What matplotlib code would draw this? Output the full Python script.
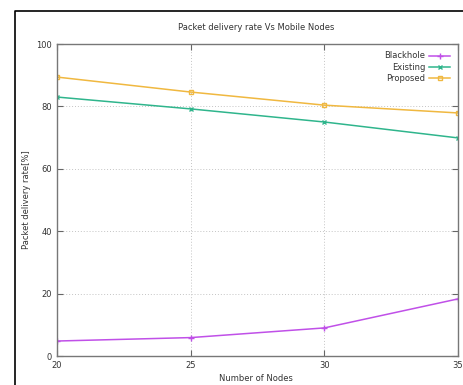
import matplotlib
matplotlib.use("Agg")
import matplotlib.pyplot as plt
from matplotlib.lines import Line2D

# data
nodes = [20, 25, 30, 35]
blackhole = [4.8, 5.9, 9.0, 18.3]
existing = [83.0, 79.2, 75.0, 69.9]
proposed = [89.4, 84.6, 80.4, 77.9]

plt.rcParams['font.family'] = 'DejaVu Sans'

fig = plt.figure(figsize=(4.64, 3.85), dpi=100, facecolor='white')
ax = fig.add_axes([57/464, 1-356/385, (458-57)/464, (356-44)/385])

ax.plot(nodes, blackhole, color='#c050e8', marker='+', ms=4, lw=1.1, label='Blackhole')
ax.plot(nodes, existing, color='#2fb58c', marker='x', ms=3.5, lw=1.1, label='Existing')
ax.plot(nodes, proposed, color='#f0b840', marker='s', ms=3.5, mfc='none', lw=1.1, label='Proposed')

ax.set_xlim(20, 35)
ax.set_ylim(0, 100)
ax.set_xticks(nodes)
ax.set_yticks([0, 20, 40, 60, 80, 100])
ax.tick_params(direction='in', length=4, labelsize=6, top=True, right=True, width=0.8,
               colors='#666666', labelcolor='#333333')
ax.grid(True, linestyle=(0, (1, 2)), color='#c4c4c4', lw=0.7)
for s in ax.spines.values():
    s.set_color('#777777')
    s.set_linewidth(1.0)

# axis titles and chart title as figure text
fig.text(256/464, 2/385, 'Number of Nodes', ha='center', va='bottom',
         fontsize=6, color='#333333')
fig.text(27/464, 1-200/385, 'Packet delivery rate[%]', ha='center', va='center',
         rotation=90, fontsize=6, color='#333333')
fig.text(256/464, 1-28/385, 'Packet delivery rate Vs Mobile Nodes', ha='center', va='center',
         fontsize=6, color='#333333')

leg = ax.legend(loc='upper right', frameon=False, fontsize=6, markerfirst=False,
                handlelength=2.6, labelspacing=0.25, borderaxespad=0.5, handletextpad=0.4)
for t in leg.get_texts():
    t.set_color('#333333')

# outer black frame from the screenshot
fig.add_artist(Line2D([15/464, 15/464, 1], [0, 1-11/385, 1-11/385],
                      transform=fig.transFigure, color='black', lw=1.2))

fig.savefig('out.png', dpi=100, facecolor='white')
